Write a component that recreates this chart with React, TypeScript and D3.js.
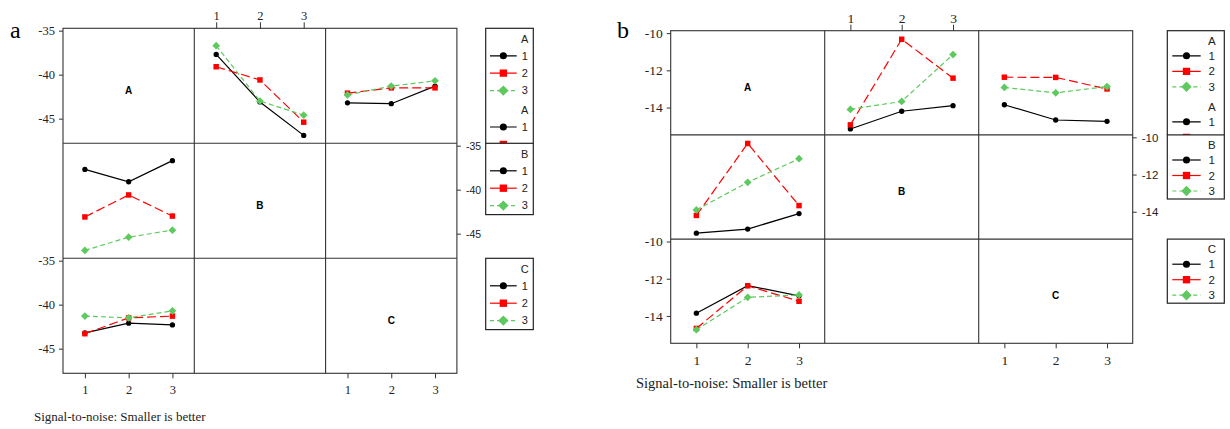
import React, { useEffect, useRef } from "react";
import * as d3 from "d3";

// factor levels and factor names
const levels = [1, 2, 3];
const factors = ["A", "B", "C"];

// chart a: mean S/N, row = level of A, column = level of B (or C)
const meansAB_a = [
  [-37.7, -43.1, -46.9],
  [-39.1, -40.6, -45.4],
  [-36.7, -43.0, -44.6],
];
const meansAC_a = [
  [-43.2, -43.3, -41.3],
  [-42.1, -41.5, -41.5],
  [-42.3, -41.3, -40.7],
];
const yTicks_a = [-35, -40, -45];

// chart b
const meansAB_b = [
  [-15.15, -14.2, -13.9],
  [-14.93, -10.33, -12.42],
  [-14.1, -13.67, -11.15],
];
const meansAC_b = [
  [-13.85, -14.67, -14.74],
  [-12.37, -12.38, -13.0],
  [-12.92, -13.21, -12.87],
];
const yTicks_b = [-10, -12, -14];

const xLabel = "Signal-to-noise: Smaller is better";

const seriesColor = ["#000000", "#ff0000", "#5ec95e"];
const seriesDash = ["none", "9,4", "5,3"];
const markerType = [d3.symbolCircle, d3.symbolSquare, d3.symbolSquare];
const markerSize = [22, 30, 30];
const markerRotate = [0, 0, 45];

const serif = "'Liberation Serif', 'Times New Roman', serif";
const sans = "'Liberation Sans', Arial, sans-serif";

const charts = [
  {
    tag: "a", tagX: 10, tagY: 38,
    ab: meansAB_a, ac: meansAC_a, yTicks: yTicks_a, yDomain: [-47.8, -34.73],
    left: 63, top: 28.3, cellW: 131.3, cellH: 115,
    tickFont: 12.5, sideFont: 10.5, topLabelY: 19.5, bottomLabelY: 394.5,
    legendX: 485.7, legendW: 47.6,
    lg: { head: 11, first: 16.5, step: 17.4, gap: 19, pad: 9, l0: 4.3, l1: 31, lx: 39, font: 11 },
    titleX: 34, titleY: 421, titleSize: 13,
  },
  {
    tag: "b", tagX: 617, tagY: 38,
    ab: meansAB_b, ac: meansAC_b, yTicks: yTicks_b, yDomain: [-15.47, -9.87],
    left: 670.7, top: 30.7, cellW: 154, cellH: 104.2,
    tickFont: 13.5, sideFont: 11.5, topLabelY: 23, bottomLabelY: 364.5,
    legendX: 1167.3, legendW: 57,
    lg: { head: 10.3, first: 14.8, step: 15.5, gap: 19.5, pad: 8, l0: 5, l1: 33.4, lx: 44.5, font: 11.5 },
    titleX: 636, titleY: 388, titleSize: 14.5,
  },
];

function marker(sel, s, scale) {
  sel
    .attr("d", d3.symbol().type(markerType[s]).size(markerSize[s] * scale)())
    .attr("fill", seriesColor[s]);
}

function drawChart(svg, c, idx) {
  const g = svg.append("g");
  const xs = levels.map((_, col) =>
    d3.scaleLinear().domain([0.5, 3.5]).range([c.left + col * c.cellW, c.left + (col + 1) * c.cellW])
  );
  const ys = levels.map((_, row) =>
    d3.scaleLinear().domain(c.yDomain).range([c.top + (row + 1) * c.cellH, c.top + row * c.cellH])
  );
  const right = c.left + 3 * c.cellW;
  const bottom = c.top + 3 * c.cellH;

  g.append("text")
    .attr("x", c.tagX).attr("y", c.tagY)
    .attr("font-family", serif).attr("font-size", 24)
    .text(c.tag);

  // grid
  const grid = g.append("g").attr("stroke", "#333").attr("stroke-width", 1.1).attr("fill", "none");
  grid.append("rect").attr("x", c.left).attr("y", c.top).attr("width", right - c.left).attr("height", bottom - c.top);
  [1, 2].forEach((k) => {
    grid.append("line").attr("x1", c.left + k * c.cellW).attr("x2", c.left + k * c.cellW).attr("y1", c.top).attr("y2", bottom);
    grid.append("line").attr("x1", c.left).attr("x2", right).attr("y1", c.top + k * c.cellH).attr("y2", c.top + k * c.cellH);
  });

  // names on the diagonal
  factors.forEach((f, i) => {
    g.append("text")
      .attr("x", c.left + (i + 0.5) * c.cellW)
      .attr("y", c.top + (i + 0.5) * c.cellH + 8)
      .attr("text-anchor", "middle")
      .attr("font-family", sans).attr("font-weight", "bold").attr("font-size", 10)
      .text(f);
  });

  // interaction panels
  const cells = [
    { row: 0, col: 1, series: c.ab },
    { row: 1, col: 0, series: d3.transpose(c.ab) },
    { row: 0, col: 2, series: c.ac },
    { row: 2, col: 0, series: d3.transpose(c.ac) },
  ];
  cells.forEach((cell) => {
    const x = xs[cell.col];
    const y = ys[cell.row];
    const line = d3.line().x((_, i) => x(levels[i])).y((v) => y(v));
    cell.series.forEach((vals, s) => {
      g.append("path")
        .attr("d", line(vals))
        .attr("fill", "none")
        .attr("stroke", seriesColor[s])
        .attr("stroke-width", 1.2)
        .attr("stroke-dasharray", seriesDash[s]);
      g.selectAll(null)
        .data(vals)
        .join("path")
        .attr("transform", (v, i) => `translate(${x(levels[i])},${y(v)}) rotate(${markerRotate[s]})`)
        .call(marker, s, 1);
    });
  });

  // axes
  const styleAxis = (a, size, family) => {
    a.select(".domain").remove();
    a.attr("font-size", size).attr("font-family", family);
    a.selectAll("line").attr("stroke", "#333");
    a.selectAll("text").attr("fill", "#222");
  };
  const fmt = (d) => String(d);
  [0, 2].forEach((row) => {
    g.append("g")
      .attr("transform", `translate(${c.left},0)`)
      .call(d3.axisLeft(ys[row]).tickValues(c.yTicks).tickFormat(fmt).tickSize(4).tickPadding(4))
      .call(styleAxis, c.tickFont, serif);
  });
  g.append("g")
    .attr("transform", `translate(${right},0)`)
    .call(d3.axisRight(ys[1]).tickValues(c.yTicks).tickFormat(fmt).tickSize(4).tickPadding(5))
    .call(styleAxis, c.sideFont, sans);
  g.append("g")
    .attr("transform", `translate(0,${c.top})`)
    .call(d3.axisTop(xs[1]).tickValues(levels).tickFormat(fmt).tickSize(6).tickPadding(c.top - c.topLabelY - 6))
    .call(styleAxis, c.tickFont, serif);
  [0, 2].forEach((col) => {
    g.append("g")
      .attr("transform", `translate(0,${bottom})`)
      .call(d3.axisBottom(xs[col]).tickValues(levels).tickFormat(fmt).tickSize(5).tickPadding(c.bottomLabelY - bottom - 14))
      .call(styleAxis, c.tickFont, serif);
  });

  g.append("text")
    .attr("x", c.titleX).attr("y", c.titleY)
    .attr("font-family", serif).attr("font-size", c.titleSize).attr("fill", "#222")
    .text(xLabel);

  // legends, one box per row; the first box repeats A and runs under the B box
  const lg = c.lg;
  const boxes = [
    { top: c.top, heads: ["A", "A"], clipBottom: c.top + c.cellH },
    { top: c.top + c.cellH, heads: ["B"] },
    { top: c.top + 2 * c.cellH, heads: ["C"] },
  ];
  boxes.forEach((b, bi) => {
    const clipId = `lgclip-${idx}-${bi}`;
    const lgG = g.append("g");
    let yy = b.top + lg.head;
    const rows = [];
    b.heads.forEach((h, hi) => {
      if (hi > 0) yy += lg.gap - lg.first;
      rows.push({ head: h, y: yy });
      yy += lg.first;
      levels.forEach((lv, s) => {
        rows.push({ lv, s, y: yy });
        yy += lg.step;
      });
    });
    const lastY = rows[rows.length - 1].y;
    const boxBottom = b.clipBottom ?? lastY + lg.pad;
    if (b.clipBottom) {
      g.append("clipPath").attr("id", clipId)
        .append("rect").attr("x", c.legendX - 2).attr("y", b.top - 2).attr("width", c.legendW + 4).attr("height", b.clipBottom - b.top + 2);
      lgG.attr("clip-path", `url(#${clipId})`);
    }
    lgG.append("rect")
      .attr("x", c.legendX).attr("y", b.top)
      .attr("width", c.legendW).attr("height", boxBottom - b.top + (b.clipBottom ? 40 : 0))
      .attr("fill", "#fff").attr("stroke", "#222").attr("stroke-width", 1.2);
    rows.forEach((r) => {
      if (r.head) {
        lgG.append("text")
          .attr("x", c.legendX + lg.lx).attr("y", r.y).attr("dy", "0.35em")
          .attr("text-anchor", "middle").attr("font-family", sans).attr("font-size", lg.font).attr("fill", "#222")
          .text(r.head);
        return;
      }
      lgG.append("line")
        .attr("x1", c.legendX + lg.l0).attr("x2", c.legendX + lg.l1).attr("y1", r.y).attr("y2", r.y)
        .attr("stroke", seriesColor[r.s]).attr("stroke-width", 1.2)
        .attr("stroke-dasharray", r.s === 2 ? "4,3" : "none");
      lgG.append("path")
        .attr("transform", `translate(${c.legendX + (lg.l0 + lg.l1) / 2},${r.y}) rotate(${markerRotate[r.s]})`)
        .call(marker, r.s, 1.8);
      // rows cut by the box below keep only their symbol
      if (b.clipBottom && r.y + lg.font / 2 > b.clipBottom) return;
      lgG.append("text")
        .attr("x", c.legendX + lg.lx).attr("y", r.y).attr("dy", "0.35em")
        .attr("text-anchor", "middle").attr("font-family", sans).attr("font-size", lg.font).attr("fill", "#222")
        .text(r.lv);
    });
  });
}

const App = () => {
  const ref = useRef(null);
  useEffect(() => {
    const svg = d3.select(ref.current);
    svg.selectAll("*").remove();
    charts.forEach((c, i) => drawChart(svg, c, i));
  }, []);
  return (
    <svg
      ref={ref}
      width={1230}
      height={429}
      style={{ position: "absolute", left: 0, top: 0, background: "#fff" }}
    ></svg>
  );
};

export default App;
